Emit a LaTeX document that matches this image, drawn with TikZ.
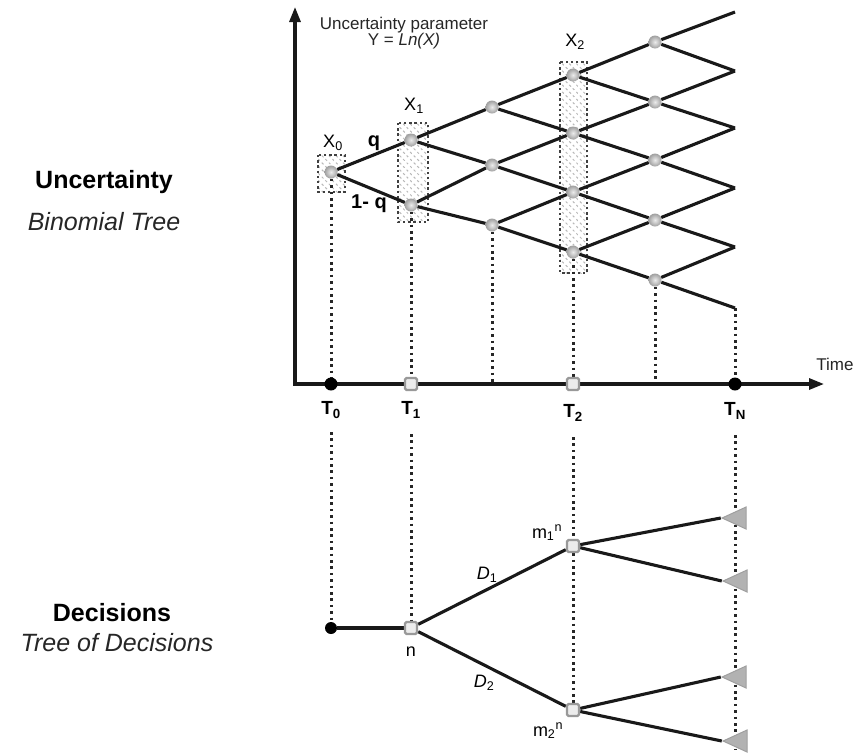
\documentclass[tikz,border=0pt]{standalone}
\usepackage{fontspec}
\setmainfont{Liberation Sans}
\usetikzlibrary{arrows.meta,shapes.geometric,patterns.meta}
\pgfdeclarelayer{bg}
\pgfdeclarelayer{mid}
\pgfsetlayers{bg,mid,main}
\begin{document}
\begin{tikzpicture}[x=1pt,y=-1pt,
  treeline/.style={line width=3.1pt, black!90},
  axisline/.style={line width=3.1pt, black!90},
  dotline/.style={line width=3pt, black!85, dash pattern=on 2.6pt off 3.8pt},
  tnode/.style={circle, inner sep=0pt, minimum size=13pt, shade, inner color=gray!15, outer color=gray!75},
  sqnode/.style={rectangle, rounded corners=1.5pt, inner sep=0pt, minimum size=12pt, draw=gray!80, line width=2.4pt, fill=gray!15},
  bdot/.style={circle, fill=black, inner sep=0pt, minimum size=13pt},
  leaf/.style={isosceles triangle, isosceles triangle stretches, shape border rotate=180, fill=gray!60, draw=gray!75, line width=1pt, inner sep=0pt, minimum width=22pt, minimum height=24pt},
  xbox/.style={draw=black!75, line width=2.6pt, dash pattern=on 2.4pt off 2.8pt, pattern={Lines[angle=135, distance=5pt, line width=1pt]}, pattern color=gray!55},
  tlab/.style={font=\fontsize{19}{21}\selectfont\bfseries},
  xlab/.style={font=\fontsize{18}{20}\selectfont},
  qlab/.style={font=\fontsize{20}{22}\selectfont\bfseries},
  dlab/.style={font=\fontsize{18}{20}\selectfont},
  bigb/.style={font=\fontsize{25}{28}\selectfont\bfseries},
  bigi/.style={font=\fontsize{25}{28}\selectfont\itshape, text=black!85},
  small/.style={font=\fontsize{17}{19}\selectfont, text=black!85}
]
\useasboundingbox (0,0) rectangle (854,753);

% left labels
\node[bigb] (lu) at (104,182) {Uncertainty};
\node[bigi] (lb) at (104,222) {Binomial Tree};
\node[bigb] (ld) at (112,613) {Decisions};
\node[bigi] (lt) at (117,643) {Tree of Decisions};

% axis title
\node[small, align=center] (ytitle) at (404,33) {Uncertainty parameter\\[-3pt]Y = \textit{Ln(X)}};
\node[small] (time) at (835,364) {Time};

% axes
\coordinate (O) at (295,384);
\coordinate (ytip) at (295,7);
\coordinate (xtip) at (824,384);
\draw[axisline, {Triangle[length=15pt,width=11pt]}-{Triangle[length=15pt,width=11pt]}] (ytip) -- (O) -- (xtip);

% boxes
\begin{pgfonlayer}{bg}
\draw[xbox] (318,155) rectangle (345,192);
\draw[xbox] (398,123) rectangle (428,222);
\draw[xbox] (560,62) rectangle (587,273);
\end{pgfonlayer}
\node[xlab] (x0l) at (333,143) {X\textsubscript{0}};
\node[xlab] (x1l) at (414,106) {X\textsubscript{1}};
\node[xlab] (x2l) at (575,42) {X\textsubscript{2}};
\node[qlab] (ql) at (374,143) {q};
\node[qlab] (q1l) at (369,204) {1- q};

% tree nodes
\node[tnode] (a0) at (331,172) {};
\node[tnode] (b0) at (411,140) {};
\node[tnode] (b1) at (411,205) {};
\node[tnode] (c0) at (492,107) {};
\node[tnode] (c1) at (492,165) {};
\node[tnode] (c2) at (492,225) {};
\node[tnode] (d0) at (573,75) {};
\node[tnode] (d1) at (573,133) {};
\node[tnode] (d2) at (573,192) {};
\node[tnode] (d3) at (573,252) {};
\node[tnode] (e0) at (655,42) {};
\node[tnode] (e1) at (655,102) {};
\node[tnode] (e2) at (655,160) {};
\node[tnode] (e3) at (655,220) {};
\node[tnode] (e4) at (655,280) {};
\coordinate (f0) at (735,12);
\coordinate (f1) at (735,71);
\coordinate (f2) at (735,128);
\coordinate (f3) at (735,188);
\coordinate (f4) at (735,247);
\coordinate (f5) at (735,308);

% axis markers
\node[bdot] (ax0) at (331,384) {};
\node[sqnode] (ax1) at (411,384) {};
\coordinate (ax15) at (492,384);
\node[sqnode] (ax2) at (573,384) {};
\coordinate (ax25) at (655,384);
\node[bdot] (axN) at (735,384) {};

\node[tlab] (t0) at (331,410) {T\textsubscript{0}};
\node[tlab] (t1) at (411,410) {T\textsubscript{1}};
\node[tlab] (t2) at (573,413) {T\textsubscript{2}};
\node[tlab] (tN) at (735,411) {T\textsubscript{N}};

% decisions
\node[bdot, minimum size=12pt] (dec0) at (331,628) {};
\node[sqnode] (n) at (411,628) {};
\node[sqnode] (m1) at (573,546) {};
\node[sqnode] (m2) at (573,710) {};
\node[leaf] (l1) at (739,518) {};
\node[leaf] (l2) at (740,581) {};
\node[leaf] (l3) at (739,677) {};
\node[leaf] (l4) at (740,741) {};
\node[dlab] (nl) at (411,652) {n};
\node[dlab] (d1l) at (487,575) {\textit{D}\textsubscript{1}};
\node[dlab] (d2l) at (484,683) {\textit{D}\textsubscript{2}};
\node[dlab] (m1l) at (547,533) {m\textsubscript{1}\textsuperscript{n}};
\node[dlab] (m2l) at (548,731) {m\textsubscript{2}\textsuperscript{n}};

\coordinate (s0) at (331,432);
\coordinate (s1) at (411,434);
\coordinate (s2) at (573,437);
\coordinate (sN) at (735,435);
\coordinate (eN) at (735,749);

\begin{pgfonlayer}{mid}
% dotted verticals
\draw[dotline] (a0) -- (ax0);
\draw[dotline] (b1) -- (ax1);
\draw[dotline] (c2) -- (ax15);
\draw[dotline] (d3) -- (ax2);
\draw[dotline] (e4) -- (ax25);
\draw[dotline] (f5) -- (axN);
\draw[dotline] (s0) -- (dec0);
\draw[dotline] (s1) -- (n);
\draw[dotline] (s2) -- (m1) -- (m2);
\draw[dotline] (sN) -- (eN);
% binomial tree
\draw[treeline] (a0) -- (b0); \draw[treeline] (a0) -- (b1);
\draw[treeline] (b0) -- (c0); \draw[treeline] (b0) -- (c1);
\draw[treeline] (b1) -- (c1); \draw[treeline] (b1) -- (c2);
\draw[treeline] (c0) -- (d0); \draw[treeline] (c0) -- (d1);
\draw[treeline] (c1) -- (d1); \draw[treeline] (c1) -- (d2);
\draw[treeline] (c2) -- (d2); \draw[treeline] (c2) -- (d3);
\draw[treeline] (d0) -- (e0); \draw[treeline] (d0) -- (e1);
\draw[treeline] (d1) -- (e1); \draw[treeline] (d1) -- (e2);
\draw[treeline] (d2) -- (e2); \draw[treeline] (d2) -- (e3);
\draw[treeline] (d3) -- (e3); \draw[treeline] (d3) -- (e4);
\draw[treeline] (e0) -- (f0); \draw[treeline] (e0) -- (f1);
\draw[treeline] (e1) -- (f1); \draw[treeline] (e1) -- (f2);
\draw[treeline] (e2) -- (f2); \draw[treeline] (e2) -- (f3);
\draw[treeline] (e3) -- (f3); \draw[treeline] (e3) -- (f4);
\draw[treeline] (e4) -- (f4); \draw[treeline] (e4) -- (f5);
% decision tree
\draw[treeline] (dec0) -- (n);
\draw[treeline] (n) -- (m1);
\draw[treeline] (n) -- (m2);
\draw[treeline] (m1) -- (l1.apex);
\draw[treeline] (m1) -- (l2.apex);
\draw[treeline] (m2) -- (l3.apex);
\draw[treeline] (m2) -- (l4.apex);
\end{pgfonlayer}
\end{tikzpicture}
\end{document}
